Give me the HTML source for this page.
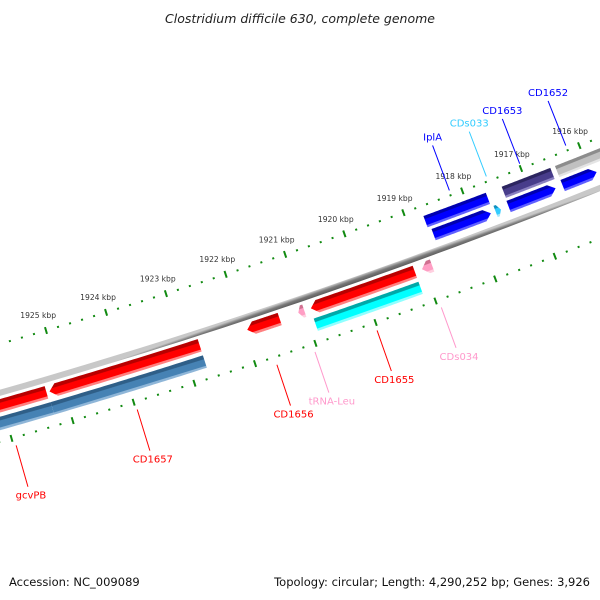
<!DOCTYPE html>
<html><head><meta charset="utf-8">
<style>
html,body{margin:0;padding:0;background:#fff;}
svg{display:block;font-family:"DejaVu Sans","Liberation Sans",sans-serif;}
</style></head>
<body>
<svg id="map" width="600" height="600" viewBox="0 0 600 600" xmlns="http://www.w3.org/2000/svg">
  <defs id="defs"></defs>
  <text x="300" y="23" text-anchor="middle" font-size="12.5" font-style="italic" fill="#222">Clostridium difficile 630, complete genome</text>
  <g id="ticks"></g>
  <g id="backbone"></g>
  <g id="features"></g>
  <g id="labels"></g>
  <text x="9" y="586" font-size="11.5" fill="#111">Accession: NC_009089</text>
  <text x="590" y="586" text-anchor="end" font-size="11.5" fill="#111">Topology: circular; Length: 4,290,252 bp; Genes: 3,926</text>
</svg>
<script>
// ---- data ----
const featNames  = ["gcvPB","CD1657","gcvPB-cog","CD1657-cog","CD1656","tRNA-Leu","CD1655","CD1655-cog","CDs034","IplA-a","IplA","CDs033","CD1653-a","CD1653","CD1652-a","CD1652"];
const featStart  = [1925.27,1922.74,1925.25,1922.74,1921.41,1921.00,1919.15,1919.15,1918.86,1917.66,1917.70,1917.53,1916.56,1916.60,1915.30,1915.90];
const featEnd    = [1926.65,1925.22,1927.20,1925.25,1921.95,1921.10,1920.89,1920.90,1919.03,1918.72,1918.67,1917.62,1917.39,1917.40,1916.48,1916.48];
const featRow    = ["C","C","D","D","C","C","C","D","C","A","B","B","A","B","A","B"];
const featTip    = ["none","hi","none","none","hi","hi","hi","none","hi","none","lo","lo","none","lo","none","lo"];
const featColor  = ["red","red","steel","steel","red","pink","red","cyan","pink","blue","blue","sky","purple","blue","gray","blue"];
const labelText  = ["gcvPB","CD1657","CD1656","tRNA-Leu","CD1655","CDs034","IplA","CDs033","CD1653","CD1652"];
const labelPos   = [1925.96,1923.98,1921.68,1921.05,1920.02,1918.95,1918.19,1917.56,1916.99,1916.20];
const labelStrand= ["rev","rev","rev","rev","rev","rev","fwd","fwd","fwd","fwd"];
const labelColor = ["#ff0000","#ff0000","#ff0000","#ff99cc","#ff0000","#ff99cc","#0000ff","#33ccff","#0000ff","#0000ff"];
const tickLabels = [1916,1917,1918,1919,1920,1921,1922,1923,1924,1925];

// ---- geometry ----
const CX=-1700, CY=-5567.5, R0=6198, A0=68.25, DA=0.5844;
function pt(k,off){const a=(A0+(k-1916)*DA)*Math.PI/180;const r=R0+off;return [CX+r*Math.cos(a),CY+r*Math.sin(a)];}
const rows={A:[-37,-25],B:[-22,-10],C:[6,19],D:[23,36]};
const palette={red:["#b80000","#ff0000","#ff8080"],steel:["#2f5f88","#4682b4","#8fb6d8"],blue:["#0000b0","#0000ff","#6060ff"],
  purple:["#2c2560","#483d8b","#8a80c0"],gray:["#8c8c8c","#c0c0c0","#e4e4e4"],cyan:["#00a8a8","#00ffff","#90ffff"],
  pink:["#d07090","#ff9ec4","#ffd0e0"],sky:["#1090c0","#33ccff","#a0e8ff"]};
const NS="http://www.w3.org/2000/svg";
const svg=document.getElementById('map'), defs=document.getElementById('defs');
function mk(tag,attrs,parent){const e=document.createElementNS(NS,tag);for(const a in attrs)e.setAttribute(a,attrs[a]);parent.appendChild(e);return e;}
function arcPts(k1,k2,off){const n=40,o=[];for(let i=0;i<=n;i++){o.push(pt(k1+(k2-k1)*i/n,off));}return o;}
function f(p){return p[0].toFixed(2)+","+p[1].toFixed(2);}

// ticks
const tg=document.getElementById('ticks');
[-47,47].forEach(function(ring){
  for(let i=Math.round(1914.6*5);i<=Math.round(1927.4*5);i++){
    const k=i/5, major=(i%5===0);
    const h=major?3.5:1;
    const a=pt(k,ring-h), b=pt(k,ring+h);
    const ln=mk('line',{x1:a[0],y1:a[1],x2:b[0],y2:b[1],stroke:'#118a11','stroke-width':2},tg);
    
    
  }
});
tickLabels.forEach(function(k){
  const p=pt(k+0.05,-64);
  const t=mk('text',{x:p[0],y:p[1]+3,'text-anchor':'middle','font-size':'7.6',fill:'#333'},tg);
  
  
  t.textContent=k+" kbp";
});

// backbone
(function(){
  const g=document.getElementById('backbone');
  const m=pt(1920,-3), n=pt(1920,3);
  const gr=mk('linearGradient',{id:'bbg',gradientUnits:'userSpaceOnUse',x1:m[0],y1:m[1],x2:n[0],y2:n[1]},defs);
  mk('stop',{offset:'0','stop-color':'#c8c8c8'},gr);mk('stop',{offset:'0.45','stop-color':'#7a7a7a'},gr);mk('stop',{offset:'1','stop-color':'#5a5a5a'},gr);
  const top=arcPts(1914.5,1927.5,-3), bot=arcPts(1927.5,1914.5,3);
  const p=mk('path',{d:'M'+top.concat(bot).map(f).join('L')+'Z',fill:'url(#bbg)'},g);
  
  
})();

// features
const fg=document.getElementById('features');
featNames.forEach(function(name,i){
  const k1=featStart[i],k2=featEnd[i],r=rows[featRow[i]],ot=r[0],ob=r[1],om=(ot+ob)/2;
  const tl=Math.min(0.11,(k2-k1)*0.6);
  let pts;
  if(featTip[i]==='lo'){pts=arcPts(k2,k1+tl,ot).concat([pt(k1,om)]).concat(arcPts(k1+tl,k2,ob));}
  else if(featTip[i]==='hi'){pts=arcPts(k1,k2-tl,ot).concat([pt(k2,om)]).concat(arcPts(k2-tl,k1,ob));}
  else{pts=arcPts(k1,k2,ot).concat(arcPts(k2,k1,ob));}
  const c=palette[featColor[i]], km=(k1+k2)/2, a=pt(km,ot), b=pt(km,ob);
  const gid='fg'+i;
  const gr=mk('linearGradient',{id:gid,gradientUnits:'userSpaceOnUse',x1:a[0],y1:a[1],x2:b[0],y2:b[1]},defs);
  mk('stop',{offset:'0','stop-color':c[0]},gr);mk('stop',{offset:'0.25','stop-color':c[0]},gr);
  mk('stop',{offset:'0.3','stop-color':c[1]},gr);mk('stop',{offset:'0.78','stop-color':c[1]},gr);
  mk('stop',{offset:'0.82','stop-color':c[2]},gr);mk('stop',{offset:'1','stop-color':c[2]},gr);
  const p=mk('path',{d:'M'+pts.map(f).join('L')+'Z',fill:'url(#'+gid+')'},fg);
  
  
});

// labels
const lg=document.getElementById('labels');
labelText.forEach(function(txt,i){
  const k=labelPos[i], rev=labelStrand[i]==='rev';
  const a=pt(k,rev?55:-52), b=pt(k,rev?98:-100);
  const ln=mk('line',{x1:a[0],y1:a[1],x2:b[0],y2:b[1],stroke:labelColor[i],'stroke-width':1},lg);
  
  
  const t=mk('text',{x:b[0]+(rev?3:0),y:rev?b[1]+12:b[1]-5,'text-anchor':'middle','font-size':'10',fill:labelColor[i]},lg);
  
  
  t.textContent=txt;
});
</script>
</body></html>
